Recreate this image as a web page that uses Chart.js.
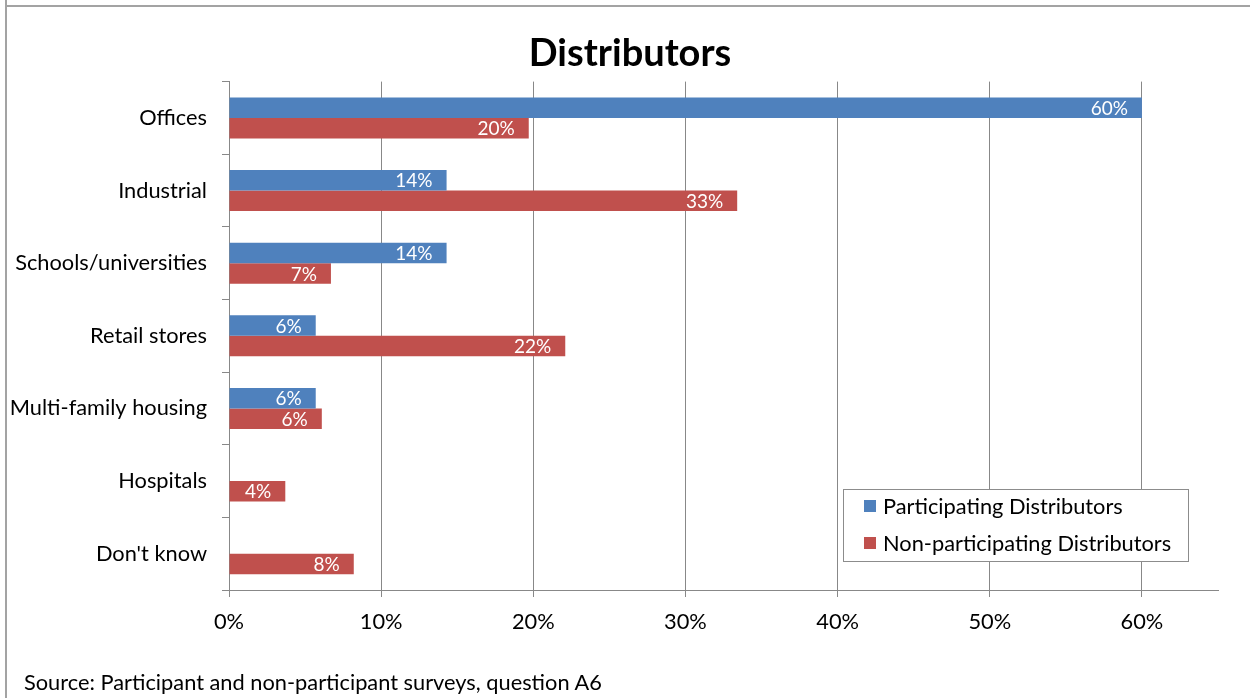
<!DOCTYPE html>
<html>
<head>
<meta charset="utf-8">
<script src="https://cdn.jsdelivr.net/npm/chart.js@4.4.1/dist/chart.umd.min.js"></script>
<style>
  body { margin: 0; background: #fff; }
  #wrap { position: relative; width: 1250px; height: 698px; overflow: hidden; }
  #frame { position: absolute; left: 5px; top: 5px; width: 1300px; height: 800px;
           border-top: 2px solid #a3a3a3; border-left: 2px solid #a3a3a3; }
  #frameTop { position: absolute; left: 5px; top: 0; width: 2px; height: 5px; background: #a3a3a3; }
  #source { position: absolute; left: 24px; top: 668px; font-family: Lato, sans-serif;
            font-size: 21.8px; line-height: 27px; color: #000; white-space: nowrap; }
  canvas { position: absolute; left: 0; top: 0; }
</style>
</head>
<body>
<div id="wrap">
  <div id="frameTop"></div>
  <div id="frame"></div>
  <canvas id="bars" width="1250" height="698"></canvas>
  <div id="source">Source: Participant and non-participant surveys, question A6</div>
</div>
<script>
// data
const categories = ['Offices', 'Industrial', 'Schools/universities', 'Retail stores',
                    'Multi-family housing', 'Hospitals', "Don't know"];
const participating = [60, 14.3, 14.3, 5.7, 5.7, null, null];
const nonParticipating = [19.7, 33.4, 6.7, 22.1, 6.1, 3.7, 8.2];
const seriesNames = ['Participating Distributors', 'Non-participating Distributors'];
const seriesColors = ['#4F81BD', '#C0504D'];
const xTicks = [0, 10, 20, 30, 40, 50, 60];
const xMax = 65;

const FONT = 'Lato, sans-serif';
const GRID = '#888888';

// title is centred on the whole frame, not on the area left of the plot
const titleShift = {
    id: 'titleShift',
    afterLayout(chart) {
        const t = chart.titleBlock;
        if (!t) return;
        t.left = 42;
        t.width = t.right - t.left;
    }
};

// white value labels at the inside end of each bar
const barLabels = {
    id: 'barLabels',
    afterDatasetsDraw(chart) {
        const ctx = chart.ctx;
        ctx.save();
        ctx.font = '19px ' + FONT;
        ctx.fillStyle = '#ffffff';
        ctx.textAlign = 'right';
        ctx.textBaseline = 'middle';
        chart.data.datasets.forEach(function (ds, i) {
            const meta = chart.getDatasetMeta(i);
            meta.data.forEach(function (bar, j) {
                const v = ds.data[j];
                if (v == null) return;
                ctx.fillText(Math.round(v) + '%', bar.x - 14, bar.y + 1);
            });
        });
        ctx.restore();
    }
};

// boxed legend inside the plot, lower right
const boxLegend = {
    id: 'boxLegend',
    afterDraw(chart) {
        const ctx = chart.ctx;
        const a = chart.chartArea;
        const left = a.right - 375, top = a.bottom - 101;
        ctx.save();
        ctx.fillStyle = '#ffffff';
        ctx.fillRect(left, top, 345, 72);
        ctx.strokeStyle = '#8c8c8c';
        ctx.lineWidth = 1;
        ctx.strokeRect(left + 0.5, top + 0.5, 345, 72);
        ctx.font = '21.8px ' + FONT;
        ctx.textBaseline = 'middle';
        ctx.textAlign = 'left';
        chart.data.datasets.forEach(function (ds, i) {
            const cy = top + 17 + i * 37;
            ctx.fillStyle = ds.backgroundColor;
            ctx.fillRect(left + 21, cy - 6, 12, 12);
            ctx.fillStyle = '#000';
            ctx.fillText(ds.label, left + 40, cy + 1);
        });
        ctx.restore();
    }
};

new Chart(document.getElementById('bars'), {
    type: 'bar',
    data: {
        labels: categories,
        datasets: [
            { label: seriesNames[0], data: participating, backgroundColor: seriesColors[0] },
            { label: seriesNames[1], data: nonParticipating, backgroundColor: seriesColors[1] }
        ]
    },
    options: {
        indexAxis: 'y',
        responsive: false,
        animation: false,
        categoryPercentage: 0.565,
        barPercentage: 1,
        layout: { padding: { left: 0, right: 32, top: 7, bottom: 0 } },
        plugins: {
            legend: { display: false },
            tooltip: { enabled: false },
            title: {
                display: true,
                text: 'Distributors',
                color: '#000',
                font: { family: FONT, size: 38, weight: 'bold' },
                padding: { top: 24, bottom: 5 }
            }
        },
        scales: {
            x: {
                min: 0,
                max: xMax,
                afterFit: function (s) { s.height = 108; },
                afterBuildTicks: function (s) {
                    s.ticks = xTicks.map(function (v) { return { value: v }; });
                },
                grid: { color: GRID, tickLength: 7, drawTicks: true },
                border: { color: GRID },
                ticks: {
                    color: '#000',
                    font: { family: FONT, size: 21.8 },
                    padding: 12,
                    maxRotation: 0,
                    callback: function (v) { return v + '%'; }
                }
            },
            y: {
                afterFit: function (s) { s.width = 229; },
                grid: { color: GRID, offset: true, drawOnChartArea: false, tickLength: 7 },
                border: { color: GRID },
                ticks: {
                    color: '#000',
                    font: { family: FONT, size: 21.8 },
                    padding: 15
                }
            }
        }
    },
    plugins: [titleShift, barLabels, boxLegend]
});
</script>
</body>
</html>
